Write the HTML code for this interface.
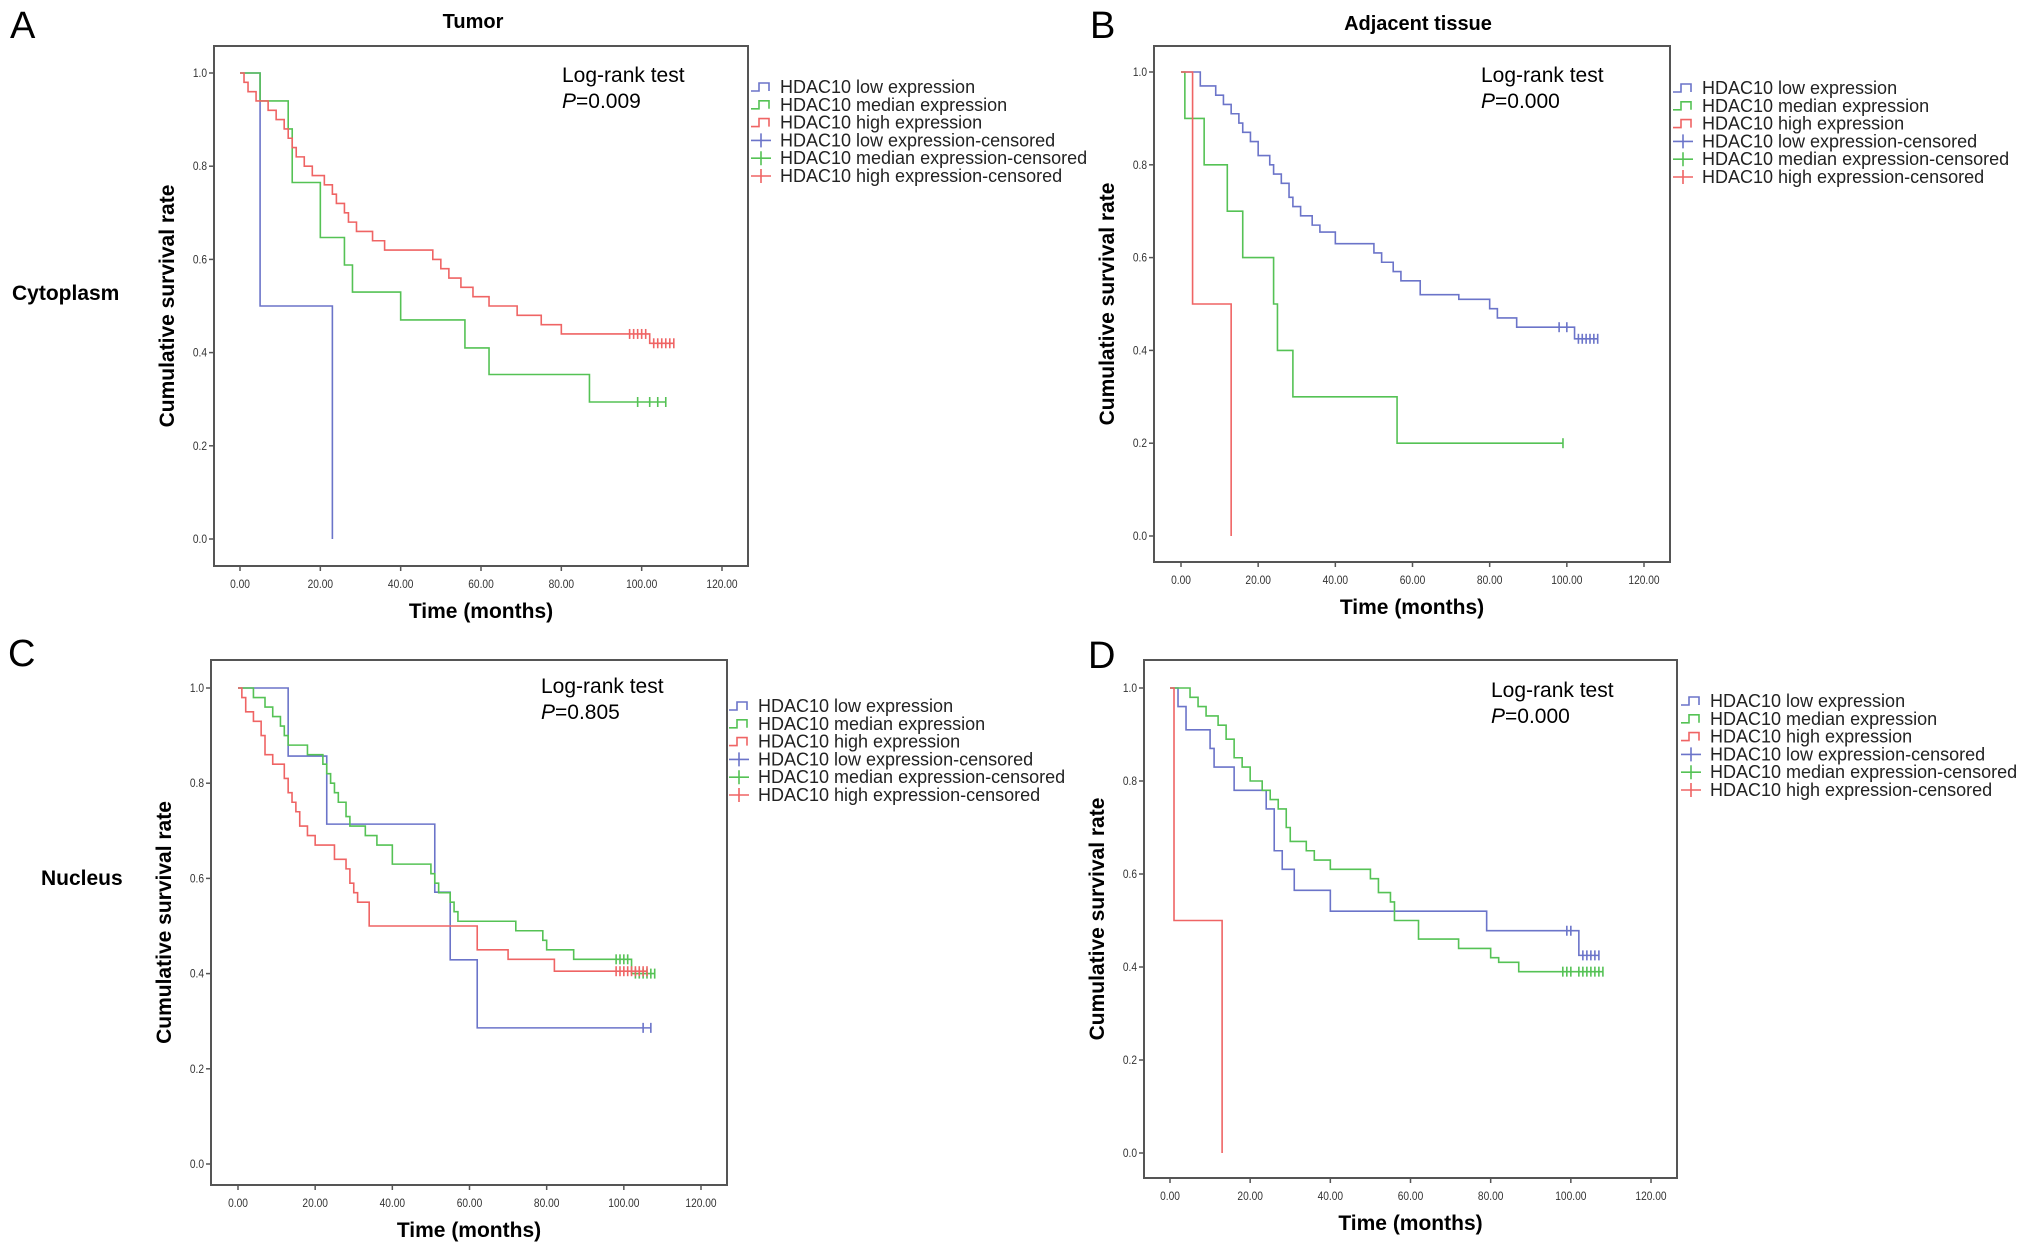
<!DOCTYPE html>
<html><head><meta charset="utf-8"><title>HDAC10 survival curves</title>
<style>
html,body{margin:0;padding:0;background:#fff;}
svg{display:block;font-family:"Liberation Sans",Arial,sans-serif;}
</style></head>
<body>
<svg id="fig" width="2031" height="1260" viewBox="0 0 2031 1260" xmlns="http://www.w3.org/2000/svg">
<rect width="2031" height="1260" fill="#fff"/>
<g id="static">
<text x="10" y="38" font-size="38">A</text>
<text x="1090" y="38" font-size="38">B</text>
<text x="8" y="666" font-size="38">C</text>
<text x="1088" y="668" font-size="38">D</text>
<text x="473" y="28" font-size="20" font-weight="bold" text-anchor="middle">Tumor</text>
<text x="1418" y="30" font-size="20" font-weight="bold" text-anchor="middle">Adjacent tissue</text>
<text x="12" y="300" font-size="21" font-weight="bold">Cytoplasm</text>
<text x="41" y="885" font-size="21" font-weight="bold">Nucleus</text>
</g>
</svg>
<script>
// ---- Panel A (Tumor / Cytoplasm) ----
const aLowT=[0,5,23];            const aLowS=[1,0.5,0];
const aLowCensT=[];              const aLowCensS=[];
const aMedT=[0,5,12,13,20,26,28,40,56,62,87]; const aMedS=[1,0.94,0.88,0.765,0.647,0.588,0.53,0.47,0.41,0.353,0.294];
const aMedCensT=[99,102,104,106]; const aMedCensS=[0.294,0.294,0.294,0.294];
const aHighT=[0,1,2,4,7,9,11,12,13,14,16,18,21,23,24,26,27,29,33,36,48,50,52,55,58,62,69,75,80,102];
const aHighS=[1,0.98,0.96,0.94,0.92,0.9,0.88,0.86,0.84,0.82,0.8,0.78,0.76,0.74,0.72,0.7,0.68,0.66,0.64,0.62,0.6,0.58,0.56,0.54,0.52,0.5,0.48,0.46,0.44,0.42];
const aHighCensT=[97,98,99,100,101,103,104,105,106,107,108]; const aHighCensS=[0.44,0.44,0.44,0.44,0.44,0.42,0.42,0.42,0.42,0.42,0.42];
// ---- Panel B (Adjacent / Cytoplasm) ----
const bLowT=[0,5,9,11,13,15,16,18,20,23,24,26,28,29,31,34,36,40,50,52,55,57,62,72,80,82,87,102];
const bLowS=[1,0.97,0.95,0.93,0.91,0.89,0.87,0.85,0.82,0.8,0.78,0.76,0.73,0.71,0.69,0.67,0.655,0.63,0.61,0.59,0.57,0.55,0.52,0.51,0.49,0.47,0.45,0.425];
const bLowCensT=[98,100,103,104,105,106,107,108]; const bLowCensS=[0.45,0.45,0.425,0.425,0.425,0.425,0.425,0.425];
const bMedT=[0,1,6,12,16,24,25,29,56]; const bMedS=[1,0.9,0.8,0.7,0.6,0.5,0.4,0.3,0.2];
const bMedCensT=[99]; const bMedCensS=[0.2];
const bHighT=[0,3,13]; const bHighS=[1,0.5,0];
const bHighCensT=[]; const bHighCensS=[];
// ---- Panel C (Tumor / Nucleus) ----
const cLowT=[0,13,23,51,55,62]; const cLowS=[1,0.857,0.714,0.571,0.429,0.286];
const cLowCensT=[105,107]; const cLowCensS=[0.286,0.286];
const cMedT=[0,4,7,9,11,12,13,18,22,23,24,25,26,28,29,33,36,40,50,51,52,55,56,57,72,79,80,87,102];
const cMedS=[1,0.98,0.96,0.94,0.92,0.9,0.88,0.86,0.84,0.82,0.8,0.78,0.76,0.73,0.71,0.69,0.67,0.63,0.61,0.59,0.57,0.55,0.53,0.51,0.49,0.47,0.45,0.43,0.4];
const cMedCensT=[98,99,100,101,103,104,105,106,107,108]; const cMedCensS=[0.43,0.43,0.43,0.43,0.4,0.4,0.4,0.4,0.4,0.4];
const cHighT=[0,1,2,4,6,7,9,12,13,14,15,16,18,20,25,28,29,30,31,34,62,70,82];
const cHighS=[1,0.98,0.95,0.93,0.9,0.86,0.84,0.81,0.78,0.76,0.74,0.71,0.69,0.67,0.64,0.62,0.59,0.57,0.55,0.5,0.45,0.43,0.405];
const cHighCensT=[98,99,100,101,102,103,104,105,106]; const cHighCensS=[0.405,0.405,0.405,0.405,0.405,0.405,0.405,0.405,0.405];
// ---- Panel D (Adjacent / Nucleus) ----
const dLowT=[0,2,4,10,11,16,24,26,28,31,40,79,102]; const dLowS=[1,0.96,0.91,0.87,0.83,0.78,0.74,0.65,0.61,0.565,0.52,0.478,0.425];
const dLowCensT=[99,100,103,104,105,106,107]; const dLowCensS=[0.478,0.478,0.425,0.425,0.425,0.425,0.425];
const dMedT=[0,5,7,9,12,14,16,18,20,23,25,27,29,30,34,36,40,50,52,55,56,62,72,80,82,87];
const dMedS=[1,0.98,0.96,0.94,0.92,0.89,0.85,0.83,0.8,0.78,0.76,0.74,0.7,0.67,0.65,0.63,0.61,0.59,0.56,0.54,0.5,0.46,0.44,0.42,0.41,0.39];
const dMedCensT=[98,99,100,102,103,104,105,106,107,108]; const dMedCensS=[0.39,0.39,0.39,0.39,0.39,0.39,0.39,0.39,0.39,0.39];
const dHighT=[0,1,13]; const dHighS=[1,0.5,0];
const dHighCensT=[]; const dHighCensS=[];

const xTicks=[0,20,40,60,80,100,120];
const yTicks=[0,0.2,0.4,0.6,0.8,1.0];
const legendLabels=["HDAC10 low expression","HDAC10 median expression","HDAC10 high expression","HDAC10 low expression-censored","HDAC10 median expression-censored","HDAC10 high expression-censored"];
const pValues=["0.009","0.000","0.805","0.000"];

const COL=["#6b74c9","#55c255","#ef6464"];
const NS="http://www.w3.org/2000/svg";
const svg=document.getElementById('fig');
function mk(tag,attrs,parent){const e=document.createElementNS(NS,tag);for(const k in attrs)e.setAttribute(k,attrs[k]);(parent||svg).appendChild(e);return e;}

const panels=[
 {id:'a',box:[214,46,748,566],x0:240,x120:722,y1:73,y0:539,leg:[751,87],lr:[562,82],series:[[aLowT,aLowS,aLowCensT,aLowCensS],[aMedT,aMedS,aMedCensT,aMedCensS],[aHighT,aHighS,aHighCensT,aHighCensS]],p:pValues[0]},
 {id:'b',box:[1154,46,1670,562],x0:1181,x120:1644,y1:72,y0:536,leg:[1673,88],lr:[1481,82],series:[[bLowT,bLowS,bLowCensT,bLowCensS],[bMedT,bMedS,bMedCensT,bMedCensS],[bHighT,bHighS,bHighCensT,bHighCensS]],p:pValues[1]},
 {id:'c',box:[211,660,727,1185],x0:238,x120:701,y1:688,y0:1164,leg:[729,706],lr:[541,693],series:[[cLowT,cLowS,cLowCensT,cLowCensS],[cMedT,cMedS,cMedCensT,cMedCensS],[cHighT,cHighS,cHighCensT,cHighCensS]],p:pValues[2]},
 {id:'d',box:[1144,660,1677,1178],x0:1170,x120:1651,y1:688,y0:1153,leg:[1681,701],lr:[1491,697],series:[[dLowT,dLowS,dLowCensT,dLowCensS],[dMedT,dMedS,dMedCensT,dMedCensS],[dHighT,dHighS,dHighCensT,dHighCensS]],p:pValues[3]}
];
const names=['low','median','high'];

panels.forEach(P=>{
 const g=mk('g',{});
 
 
 const xs=t=>P.x0+(P.x120-P.x0)*t/120;
 const ys=v=>P.y0+(P.y1-P.y0)*v;
 const [L,T,R,B]=P.box;
 const box=mk('rect',{x:L,y:T,width:R-L,height:B-T,fill:'none',stroke:'#555','stroke-width':2},g);
 
 
 yTicks.forEach(v=>{
  mk('line',{x1:L-5,x2:L,y1:ys(v),y2:ys(v),stroke:'#555','stroke-width':1.5},g);
  const t=mk('text',{x:L-7,y:ys(v)+4,'font-size':12,'text-anchor':'end',fill:'#333',transform:`scale(0.85,1) translate(${(L-7)*(1/0.85-1)},0)`},g);
  t.textContent=v.toFixed(1);
  
  
 });
 xTicks.forEach(v=>{
  mk('line',{x1:xs(v),x2:xs(v),y1:B,y2:B+5,stroke:'#555','stroke-width':1.5},g);
  const t=mk('text',{x:xs(v),y:B+22,'font-size':12,'text-anchor':'middle',fill:'#333',transform:`scale(0.85,1) translate(${xs(v)*(1/0.85-1)},0)`},g);
  t.textContent=v.toFixed(2);
  
  
 });
 const xt=mk('text',{x:(L+R)/2,y:B+52,'font-size':21,'font-weight':'bold','text-anchor':'middle'},g);
 xt.textContent='Time (months)';
 
 
 const yc=(T+B)/2, yx=L-40;
 const yt=mk('text',{x:yx,y:yc,'font-size':21,'font-weight':'bold','text-anchor':'middle',transform:`rotate(-90 ${yx} ${yc})`},g);
 yt.textContent='Cumulative survival rate';
 
 
 const l1=mk('text',{x:P.lr[0],y:P.lr[1],'font-size':21},g);
 l1.textContent='Log-rank test';
 
 
 const l2=mk('text',{x:P.lr[0],y:P.lr[1]+26,'font-size':21},g);
 l2.innerHTML='<tspan font-style="italic">P</tspan>=' + P.p;
 
 
 P.series.forEach((s,i)=>{
  const [tt,ss,ct,cs]=s;
  let d='M'+xs(tt[0])+' '+ys(ss[0]);
  for(let k=1;k<tt.length;k++){d+=' H'+xs(tt[k])+' V'+ys(ss[k]);}
  const cens=ct.length?ct[ct.length-1]:tt[tt.length-1];
  if(cens>tt[tt.length-1] && ss[ss.length-1]>0) d+=' H'+xs(cens);
  const p=mk('path',{d:d,fill:'none',stroke:COL[i],'stroke-width':1.6},g);
  
  
  ct.forEach((c,k)=>{
   const m=mk('path',{d:`M${xs(c)} ${ys(cs[k])-5} V${ys(cs[k])+5}`,stroke:COL[i],'stroke-width':1.6},g);
   
   
  });
 });
 legendLabels.forEach((lab,k)=>{
  const y=P.leg[1]+k*17.8, x=P.leg[0], c=COL[k%3];
  const sym = k<3 ? `M${x} ${y+4} H${x+8} V${y-4} H${x+18} V${y+4}` : `M${x} ${y} H${x+20} M${x+10} ${y-7} V${y+7}`;
  const s=mk('path',{d:sym,fill:'none',stroke:c,'stroke-width':1.6},g);
  
  
  const t=mk('text',{x:x+29,y:y+6,'font-size':18,fill:'#222'},g);
  t.textContent=lab;
  
  
 });
});
</script>
</body></html>
